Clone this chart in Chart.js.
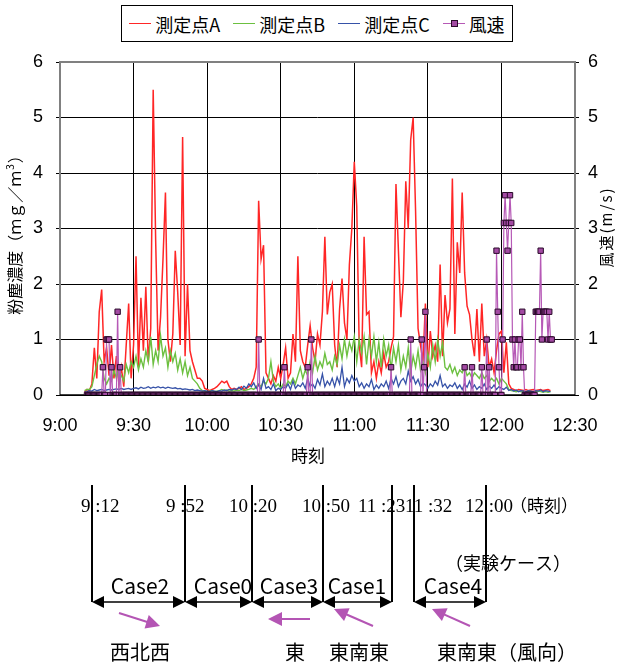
<!DOCTYPE html>
<html>
<head>
<meta charset="utf-8">
<script src="https://cdn.jsdelivr.net/npm/chart.js@4.4.0/dist/chart.umd.min.js"></script>
<style>
body { margin: 0; background: #fff; }
#wrap { position: relative; width: 625px; height: 664px; }
#legend {
    position: absolute; left: 121px; top: 5px; width: 390px; height: 35px;
    border: 1px solid #000; background: #fff;
    display: flex; align-items: center; justify-content: center; gap: 13px;
    font: 18px 'Noto Sans CJK JP', sans-serif; color: #000;
}
#legend .item { display: flex; align-items: center; gap: 4px; }
#legend .swatch { position: relative; width: 22px; height: 1px; }
#legend .mark {
    position: absolute; left: 8px; top: -3px; width: 5px; height: 5px;
    background: #a34aa3; border: 1px solid #2a0a2a;
}
</style>
</head>
<body>
<div id="wrap">
    <canvas id="chart" width="625" height="664"></canvas>
    <div id="legend"></div>
</div>
<script>
// times are minutes after midnight
const concStart = 550;      // 9:10, one sample per minute
const windStart = 551;      // 9:11, one sample per 30 s
const windStep = 0.5;

// 測定点A (mg/m3)
const concA = [
    0.05, 0.1, 0.08, 0.2, 0.85, 0.3, 1.5, 1.9, 0.6, 0.85,
    0.35, 0.9, 0.3, 0.7, 0.2, 0.5, 0.15, 0.9, 1.65, 0.3,
    0.9, 2.5, 0.5, 1.75, 0.8, 1.95, 0.6, 1.2, 5.5, 2.8,
    0.8, 1.4, 2.45, 3.65, 1.0, 0.6, 1.1, 2.6, 1.85, 0.9,
    4.65, 0.7, 2.0, 0.8, 0.6, 0.45, 0.3, 0.3, 0.25, 0.12,
    0.1, 0.08, 0.1, 0.12, 0.15, 0.2, 0.25, 0.22, 0.25, 0.15,
    0.1, 0.12, 0.1, 0.12, 0.15, 0.1, 0.12, 0.15, 0.2, 0.3,
    0.5, 3.5, 2.45, 2.7, 0.4, 0.3, 0.2, 0.35, 0.25, 0.5,
    0.3, 0.55, 0.85, 0.3, 0.4, 1.1, 0.6, 2.5, 0.8, 0.6,
    0.5, 0.9, 1.25, 0.85, 0.6, 1.1, 0.9, 1.5, 2.85, 1.45,
    1.85, 2.0, 0.9, 0.5, 1.55, 2.1, 1.3, 1.0, 2.35, 3.0,
    4.2, 3.4, 0.9, 0.5, 2.85, 1.45, 1.5, 0.4, 0.6, 0.3,
    0.6, 0.4, 0.75, 0.5, 0.6, 0.85, 1.05, 3.8, 2.6, 1.4,
    2.05, 3.85, 3.0, 4.6, 5.0, 3.3, 1.2, 0.9, 0.6, 1.65,
    0.5, 1.15, 0.7, 0.9, 0.6, 2.35, 0.7, 1.8, 1.3, 1.55,
    3.9, 1.1, 2.75, 2.2, 3.65, 2.2, 1.6, 1.45, 1.0, 0.7,
    1.55, 0.6, 1.65, 0.7, 1.0, 0.5, 0.65, 0.4, 0.8, 1.1,
    1.15, 0.4, 0.95, 0.2, 0.12, 0.1, 0.08, 0.1, 0.09, 0.08,
    0.1, 0.08, 0.09, 0.1, 0.08, 0.09, 0.1, 0.08, 0.09, 0.1, 0.08
];

// 測定点B
const concB = [
    0.08, 0.1, 0.1, 0.15, 0.35, 0.55, 0.7, 0.6, 0.3, 0.2,
    0.3, 0.25, 0.45, 0.3, 0.5, 0.35, 0.25, 0.55, 0.4, 0.6,
    0.5, 0.7, 0.45, 0.65, 0.5, 0.8, 0.6, 1.05, 0.55, 0.8,
    0.6, 1.07, 0.7, 0.85, 0.5, 0.8, 0.6, 0.75, 0.45, 0.65,
    0.4, 0.6, 0.35, 0.5, 0.3, 0.25, 0.2, 0.12, 0.08, 0.07,
    0.06, 0.07, 0.08, 0.06, 0.07, 0.08, 0.1, 0.08, 0.09, 0.07,
    0.08, 0.07, 0.09, 0.08, 0.1, 0.08, 0.09, 0.1, 0.12, 0.1,
    0.15, 0.2, 0.15, 0.25, 0.2, 0.3, 0.6, 0.25, 0.15, 0.2,
    0.12, 0.2, 0.15, 0.25, 0.2, 0.3, 0.2, 0.35, 0.5, 0.3,
    0.45, 0.35, 0.6, 0.4, 0.7, 0.45, 0.6, 0.5, 0.75, 0.55,
    0.6, 0.45, 0.7, 0.55, 0.9, 0.65, 1.0, 0.7, 0.95, 0.8,
    1.05, 0.6, 1.0, 0.75, 1.05, 0.55, 1.0, 0.7, 1.05, 0.6,
    0.95, 0.5, 1.0, 0.7, 0.9, 0.45, 0.85, 0.6, 0.9, 0.45,
    0.7, 0.5, 0.85, 0.4, 0.7, 0.5, 0.8, 0.45, 0.6, 0.4,
    0.75, 0.5, 0.9, 0.6, 1.0, 0.7, 0.95, 0.5, 0.45, 0.55,
    0.4, 0.5, 0.35, 0.45, 0.4, 0.5, 0.35, 0.4, 0.3, 0.4,
    0.35, 0.3, 0.4, 0.3, 0.35, 0.25, 0.3, 0.25, 0.3, 0.2,
    0.3, 0.25, 0.2, 0.1, 0.08, 0.07, 0.06, 0.07, 0.06, 0.07,
    0.06, 0.07, 0.06, 0.05, 0.06, 0.07, 0.06, 0.05, 0.06, 0.05, 0.06
];

// 測定点C
const concC = [
    0.05, 0.06, 0.08, 0.07, 0.1, 0.08, 0.09, 0.1, 0.08, 0.09,
    0.1, 0.09, 0.1, 0.11, 0.1, 0.12, 0.1, 0.11, 0.12, 0.1,
    0.12, 0.13, 0.11, 0.14, 0.12, 0.13, 0.15, 0.12, 0.14, 0.13,
    0.15, 0.13, 0.14, 0.12, 0.14, 0.13, 0.12, 0.13, 0.11, 0.12,
    0.1, 0.11, 0.1, 0.09, 0.1, 0.08, 0.09, 0.08, 0.07, 0.08,
    0.07, 0.06, 0.08, 0.07, 0.06, 0.08, 0.07, 0.09, 0.08, 0.1,
    0.09, 0.11, 0.1, 0.14, 0.1, 0.16, 0.12, 0.2, 0.15, 0.22,
    0.12, 0.18, 0.1, 0.3, 0.12, 0.15, 0.1, 0.2, 0.08, 0.12,
    0.1, 0.15, 0.12, 0.2, 0.1, 0.25, 0.12, 0.18, 0.15, 0.22,
    0.12, 0.3, 0.15, 0.2, 0.12, 0.28, 0.18, 0.38, 0.15, 0.25,
    0.18, 0.3, 0.15, 0.32, 0.2, 0.5, 0.15, 0.3, 0.22, 0.35,
    0.25, 0.3, 0.15, 0.22, 0.12, 0.2, 0.15, 0.28, 0.1, 0.18,
    0.12, 0.2, 0.15, 0.25, 0.12, 0.3, 0.2, 0.33, 0.15, 0.25,
    0.3, 0.2, 0.43, 0.25, 0.33, 0.2, 0.28, 0.15, 0.22, 0.18,
    0.12, 0.2, 0.15, 0.25, 0.18, 0.35, 0.15, 0.2, 0.12, 0.18,
    0.15, 0.22, 0.12, 0.18, 0.1, 0.2, 0.14, 0.25, 0.12, 0.18,
    0.1, 0.15, 0.12, 0.2, 0.1, 0.16, 0.12, 0.18, 0.1, 0.15,
    0.12, 0.1, 0.14, 0.08, 0.1, 0.07, 0.09, 0.06, 0.08, 0.07,
    0.06, 0.08, 0.07, 0.06, 0.08, 0.07, 0.09, 0.06, 0.08, 0.07, 0.06
];

// 風速 (m/s), 20 values = 10 minutes per row
const windSpeed = [
    0, 0, 0, 0, 0, 0, 0, 0, 0, 0, 0, 0, 0, 0.5, 0, 0, 1, 1, 1, 0,
    0.5, 0, 0, 0, 0, 1.5, 0, 0.5, 0, 0, 0, 0, 0, 0, 0, 0, 0, 0, 0, 0,
    0, 0, 0, 0, 0, 0, 0, 0, 0, 0, 0, 0, 0, 0, 0, 0, 0, 0, 0, 0,
    0, 0, 0, 0, 0, 0, 0, 0, 0, 0, 0, 0, 0, 0, 0, 0, 0, 0, 0, 0,
    0, 0, 0, 0, 0, 0, 0, 0, 0, 0, 0, 0, 0, 0, 0, 0, 0, 0, 0, 0,
    0, 0, 0, 0, 0, 0, 0, 0, 0, 0, 0, 0, 0, 0, 0, 0, 0, 0, 0, 0,
    0, 0, 0, 0, 0, 0, 0, 0, 0, 0, 0, 0, 0, 0, 0, 0, 0, 0, 0, 0,
    1, 0, 0, 0, 0, 0, 0, 0, 0, 0, 0, 0, 0, 0, 0, 0, 0, 0, 0, 0,
    0, 0.5, 0, 0, 0, 0, 0, 0, 0, 0, 0, 0, 0, 0, 0, 0, 0, 0, 0, 0,
    0.5, 0, 0, 1, 0, 0, 0, 0, 0, 0, 0, 0, 0, 0, 0, 0, 0, 0, 0, 0,
    0, 0, 0, 0, 0, 0, 0, 0, 0, 0, 0, 0, 0, 0, 0, 0, 0, 0, 0, 0,
    0, 0, 0, 0, 0, 0, 0, 0, 0, 0, 0, 0, 0, 0, 0, 0, 0, 0, 0, 0,
    0, 0, 0, 0, 0, 0, 0, 0, 0.5, 0, 0, 0, 0, 0, 0, 0, 0, 0, 0, 0,
    0, 0, 0, 0, 1, 0, 0, 0, 0, 0, 0, 0, 0, 1, 0, 0.5, 1.5, 0, 0, 0,
    0, 0, 0, 0, 0, 0, 0, 0, 0, 0, 0, 0, 0, 0, 0, 0, 0, 0, 0, 0,
    0, 0, 0, 0, 0, 0, 0, 0, 0.5, 0, 0, 0, 0, 0, 0.5, 0, 0, 0, 0, 0,
    0, 0, 0.5, 0, 0, 0, 1, 0, 0.5, 0, 0, 0, 0, 0, 2.6, 1.5, 0.5, 0, 0, 1,
    3.1, 3.6, 3.1, 2.6, 3.1, 3.6, 3.1, 1, 0.5, 1, 0.5, 0.5, 1, 1, 0.5, 1.5, 0.5, 0, 0, 0,
    0, 0, 0, 0, 0, 0, 1.5, 1.5, 1.5, 1.5, 2.6, 1, 1.5, 1.5, 1.5, 1.5, 1, 1.5, 1, 1
];

const yTicks = [0, 1, 2, 3, 4, 5, 6];
const seriesNames = ['測定点A', '測定点B', '測定点C', '風速'];
const seriesColors = ['#ff2626', '#6cc040', '#3652a8', '#b659b6'];

// lower diagram: case periods and wind direction
const caseTimes = ['9 :12', '9 :52', '10 :20', '10 :50', '11 :23', '11 :32', '12 :00'];
const caseNames = ['Case2', 'Case0', 'Case3', 'Case1', 'Case4'];
const windDirs = ['西北西', '東', '東南東', '東南東（風向）'];

// drawing layout of the diagram (pixels)
const diagLineX = [92, 185, 252, 323, 392, 414, 486];
const diagTimeX = [81, 166, 229, 302, 358, 405, 465];
const diagSpans = [[92, 185], [185, 252], [252, 323], [323, 392], [414, 486]];
const diagCaseX = [140, 223, 289, 357, 453];
const diagArrows = [[119, 613, 160, 626], [310, 619, 268, 619], [373, 626, 334, 609], [470, 626, 432, 609]];
const diagDirX = [[140, 'center'], [295, 'center'], [359, 'center'], [437, 'left']];

const JP = "'Noto Sans CJK JP', sans-serif";

function toPoints(values, start, step) {
    return values.map((v, i) => ({ x: start + i * step, y: v }));
}

function fmtTime(v) {
    return Math.floor(v / 60) + ':' + String(v % 60).padStart(2, '0');
}

// legend
const legend = document.getElementById('legend');
seriesNames.forEach((name, i) => {
    const item = document.createElement('div');
    item.className = 'item';
    const sw = document.createElement('div');
    sw.className = 'swatch';
    sw.style.background = seriesColors[i];
    if (i === 3) {
        const m = document.createElement('div');
        m.className = 'mark';
        sw.appendChild(m);
    }
    const lab = document.createElement('span');
    lab.textContent = name;
    item.appendChild(sw);
    item.appendChild(lab);
    legend.appendChild(item);
});

function arrowHead(ctx, x, y, dx, dy, len, hw) {
    ctx.beginPath();
    ctx.moveTo(x, y);
    ctx.lineTo(x - dx * len - dy * hw, y - dy * len + dx * hw);
    ctx.lineTo(x - dx * len + dy * hw, y - dy * len - dx * hw);
    ctx.closePath();
    ctx.fill();
}

const extras = {
    id: 'extras',
    beforeDatasetsDraw(chart) {
        const { ctx, chartArea: a } = chart;
        ctx.save();
        ctx.strokeStyle = '#808080';
        ctx.lineWidth = 2;
        ctx.beginPath();
        ctx.moveTo(a.left, a.bottom);
        ctx.lineTo(a.left, a.top);
        ctx.lineTo(a.right, a.top);
        ctx.lineTo(a.right, a.bottom);
        ctx.stroke();
        ctx.strokeStyle = '#000';
        ctx.lineWidth = 1.5;
        ctx.beginPath();
        ctx.moveTo(a.left, a.bottom);
        ctx.lineTo(a.right, a.bottom);
        ctx.stroke();
        ctx.restore();
    },
    afterDraw(chart) {
        const ctx = chart.ctx;
        ctx.save();
        ctx.fillStyle = '#000';
        ctx.textBaseline = 'middle';

        // left axis title
        ctx.save();
        ctx.translate(15, 231);
        ctx.rotate(-Math.PI / 2);
        ctx.font = '16px ' + JP;
        const t1 = '粉塵濃度（ｍｇ／ｍ', t3 = '）';
        const w1 = ctx.measureText(t1).width, w3 = ctx.measureText(t3).width;
        ctx.font = '10px ' + JP;
        const w2 = ctx.measureText('3').width + 2;
        let x0 = -(w1 + w2 + w3) / 2;
        ctx.textAlign = 'left';
        ctx.font = '16px ' + JP;
        ctx.fillText(t1, x0, 0);
        ctx.font = '10px ' + JP;
        ctx.fillText('3', x0 + w1 + 1, -5);
        ctx.font = '16px ' + JP;
        ctx.fillText(t3, x0 + w1 + w2, 0);
        ctx.restore();

        // right axis title
        ctx.save();
        ctx.translate(606, 227);
        ctx.rotate(-Math.PI / 2);
        ctx.font = '15px ' + JP;
        ctx.textAlign = 'center';
        ctx.letterSpacing = '2px';
        ctx.fillText('風速(m/s)', 0, 0);
        ctx.restore();

        // x axis title
        ctx.font = '17px ' + JP;
        ctx.textAlign = 'center';
        ctx.fillText('時刻', 308, 456);

        // diagram: period boundaries
        ctx.strokeStyle = '#000';
        ctx.lineWidth = 2;
        diagLineX.forEach(x => {
            ctx.beginPath();
            ctx.moveTo(x, 485);
            ctx.lineTo(x, 602);
            ctx.stroke();
        });
        ctx.textAlign = 'left';
        ctx.textBaseline = 'alphabetic';
        ctx.font = "19px 'Liberation Serif', serif";
        caseTimes.forEach((t, i) => ctx.fillText(t, diagTimeX[i], 512));
        ctx.font = '17px ' + JP;
        ctx.fillText('（時刻）', 510, 512);
        ctx.font = '18px ' + JP;
        ctx.textBaseline = 'middle';
        ctx.fillText('（実験ケース）', 445, 563);

        // case spans
        ctx.lineWidth = 1.5;
        ctx.fillStyle = '#000';
        diagSpans.forEach(([x1, x2]) => {
            ctx.beginPath();
            ctx.moveTo(x1 + 4, 602);
            ctx.lineTo(x2 - 4, 602);
            ctx.stroke();
            arrowHead(ctx, x1, 602, -1, 0, 12, 6);
            arrowHead(ctx, x2, 602, 1, 0, 12, 6);
        });
        ctx.font = '21px ' + JP;
        ctx.textAlign = 'center';
        caseNames.forEach((n, i) => ctx.fillText(n, diagCaseX[i], 586));

        // wind direction arrows
        ctx.strokeStyle = '#b455b4';
        ctx.fillStyle = '#b455b4';
        ctx.lineWidth = 2;
        diagArrows.forEach(([x1, y1, x2, y2]) => {
            const len = Math.hypot(x2 - x1, y2 - y1);
            const dx = (x2 - x1) / len, dy = (y2 - y1) / len;
            ctx.beginPath();
            ctx.moveTo(x1, y1);
            ctx.lineTo(x2 - dx * 10, y2 - dy * 10);
            ctx.stroke();
            arrowHead(ctx, x2, y2, dx, dy, 14, 7);
        });
        ctx.fillStyle = '#000';
        ctx.font = '20px ' + JP;
        windDirs.forEach((d, i) => {
            ctx.textAlign = diagDirX[i][1];
            ctx.fillText(d, diagDirX[i][0], 652);
        });
        ctx.restore();
    }
};

const tickFont = { family: "'Liberation Sans', Arial, sans-serif", size: 18 };

new Chart(document.getElementById('chart'), {
    type: 'line',
    data: {
        datasets: [
            {
                label: seriesNames[3], yAxisID: 'y2', order: 0,
                data: toPoints(windSpeed, windStart, windStep),
                borderColor: seriesColors[3], borderWidth: 1.2,
                pointStyle: 'rect', pointRadius: 3.8,
                pointBackgroundColor: '#a34aa3', pointBorderColor: '#2a0a2a', pointBorderWidth: 1
            },
            {
                label: seriesNames[2], yAxisID: 'y', order: 1,
                data: toPoints(concC, concStart, 1),
                borderColor: seriesColors[2], borderWidth: 1.3, pointRadius: 0
            },
            {
                label: seriesNames[1], yAxisID: 'y', order: 2,
                data: toPoints(concB, concStart, 1),
                borderColor: seriesColors[1], borderWidth: 1.4, pointRadius: 0
            },
            {
                label: seriesNames[0], yAxisID: 'y', order: 3,
                data: toPoints(concA, concStart, 1),
                borderColor: seriesColors[0], borderWidth: 1.5, pointRadius: 0
            }
        ]
    },
    options: {
        responsive: false,
        animation: false,
        layout: { padding: { top: 62, left: 0, right: 0, bottom: 0 } },
        plugins: { legend: { display: false }, tooltip: { enabled: false } },
        scales: {
            x: {
                type: 'linear', min: 540, max: 750,
                border: { display: false },
                grid: { color: '#000', lineWidth: 1, drawTicks: false },
                ticks: { stepSize: 30, padding: 20, color: '#000', font: tickFont, callback: v => fmtTime(v) },
                afterFit: s => { s.height = 269; }
            },
            y: {
                position: 'left', min: 0, max: 6,
                border: { display: false },
                grid: { color: '#000', lineWidth: 1, tickLength: 4 },
                ticks: { stepSize: 1, padding: 13, color: '#000', font: tickFont },
                afterBuildTicks: s => { s.ticks = yTicks.map(v => ({ value: v })); },
                afterFit: s => { s.width = 60; }
            },
            y2: {
                position: 'right', min: 0, max: 6,
                border: { display: false },
                grid: { drawOnChartArea: false, color: '#000', tickLength: 4 },
                ticks: { stepSize: 1, padding: 9, color: '#000', font: tickFont },
                afterBuildTicks: s => { s.ticks = yTicks.map(v => ({ value: v })); },
                afterFit: s => { s.width = 50; }
            }
        }
    },
    plugins: [extras]
});
</script>
</body>
</html>
